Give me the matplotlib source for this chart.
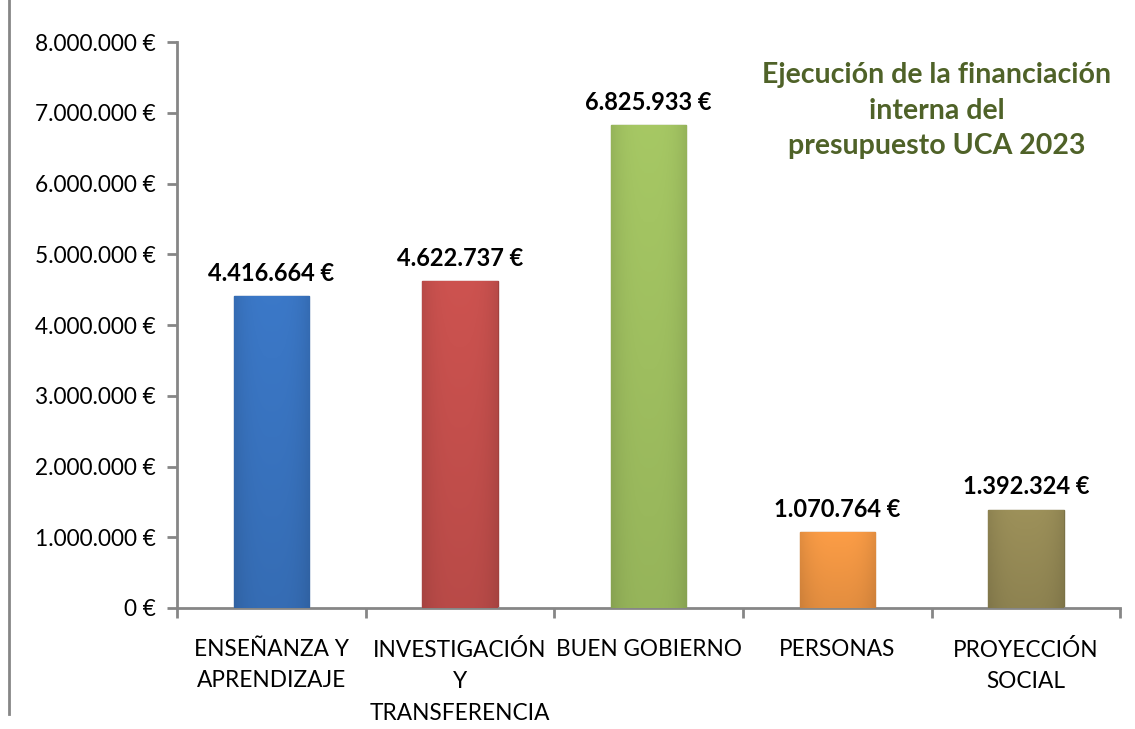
import matplotlib
matplotlib.use("Agg")
import matplotlib.pyplot as plt
from matplotlib.lines import Line2D
from matplotlib.ticker import FuncFormatter
import matplotlib.colors as mcolors
import numpy as np

categories = ["ENSEÑANZA Y\nAPRENDIZAJE", "INVESTIGACIÓN\nY\nTRANSFERENCIA",
              "BUEN GOBIERNO", "PERSONAS", "PROYECCIÓN\nSOCIAL"]
values = [4416664, 4622737, 6825933, 1070764, 1392324]
value_labels = ["4.416.664 €", "4.622.737 €", "6.825.933 €", "1.070.764 €", "1.392.324 €"]
colors = ["#3A76C4", "#C9514E", "#A3C462", "#F79A45", "#9A8E58"]
title = "Ejecución de la financiación\ninterna del\npresupuesto UCA 2023"

plt.rcParams['font.family'] = ['Lato', 'DejaVu Sans']

fig = plt.figure(figsize=(11.35, 7.29), dpi=100)
ax = fig.add_axes([0.156, 0.166, 0.831, 0.776])

x = np.arange(len(categories))
bars = ax.bar(x, values, width=0.4, color=colors, zorder=2)

# subtle shading on bars (horizontal bevel + slight vertical gradient, lighter top)
for b, c in zip(bars, colors):
    rgb = np.array(mcolors.to_rgb(c))
    gx = np.linspace(0, 1, 60)
    gy = np.linspace(0, 1, 200)
    hx = 1 - 0.10 * (np.abs(gx - 0.5) / 0.5) ** 3
    hy = 0.92 + 0.10 * gy  # origin lower: last row is top -> lighter
    shade = hy[:, None] * hx[None, :]
    img = np.clip(rgb[None, None, :] * shade[:, :, None], 0, 1)
    bx, by, bw, bh = b.get_x(), b.get_y(), b.get_width(), b.get_height()
    im = ax.imshow(img, extent=[bx, bx + bw, by, by + bh], aspect='auto', zorder=3,
                   origin='lower')
    im.set_clip_path(b)
    b.set_edgecolor(tuple(rgb * 0.8))
    b.set_linewidth(1.0)

ax.set_xlim(-0.5, len(categories) - 0.5)
ax.set_ylim(0, 8000000)
ax.set_yticks(np.arange(0, 8000001, 1000000))

def fmt(v, pos):
    if v == 0:
        return "0 €"
    return f"{int(v):,}".replace(",", ".") + " €"

ax.yaxis.set_major_formatter(FuncFormatter(fmt))
ax.set_xticks(x)
ax.set_xticklabels(categories, fontsize=16.3, linespacing=1.62)
ax.set_xticks(np.arange(-0.5, len(categories), 1), minor=True)
ax.tick_params(axis='x', which='major', length=0, pad=22)
ax.tick_params(axis='x', which='minor', length=7, width=2, color="#868686", direction='out')
ax.tick_params(axis='y', which='major', length=7, width=2, color="#868686", labelsize=16.3, pad=8)

for s in ["top", "right"]:
    ax.spines[s].set_visible(False)
for s in ["left", "bottom"]:
    ax.spines[s].set_color("#868686")
    ax.spines[s].set_linewidth(2)

for xi, v, lab in zip(x, values, value_labels):
    ax.annotate(lab, (xi, v), xytext=(0, 8), textcoords="offset points",
                ha="center", va="bottom", fontsize=17, fontweight="bold", color="black")

ax.text(0.805, 0.965, title, transform=ax.transAxes, ha="center", va="top",
        fontsize=20.5, fontweight="bold", color="#4F6228", linespacing=1.45)

fig.add_artist(Line2D([9 / 1135, 9 / 1135], [0.02, 1.0], color="#868686", linewidth=2,
                      transform=fig.transFigure))

fig.savefig("out.png", dpi=100, facecolor="white")
